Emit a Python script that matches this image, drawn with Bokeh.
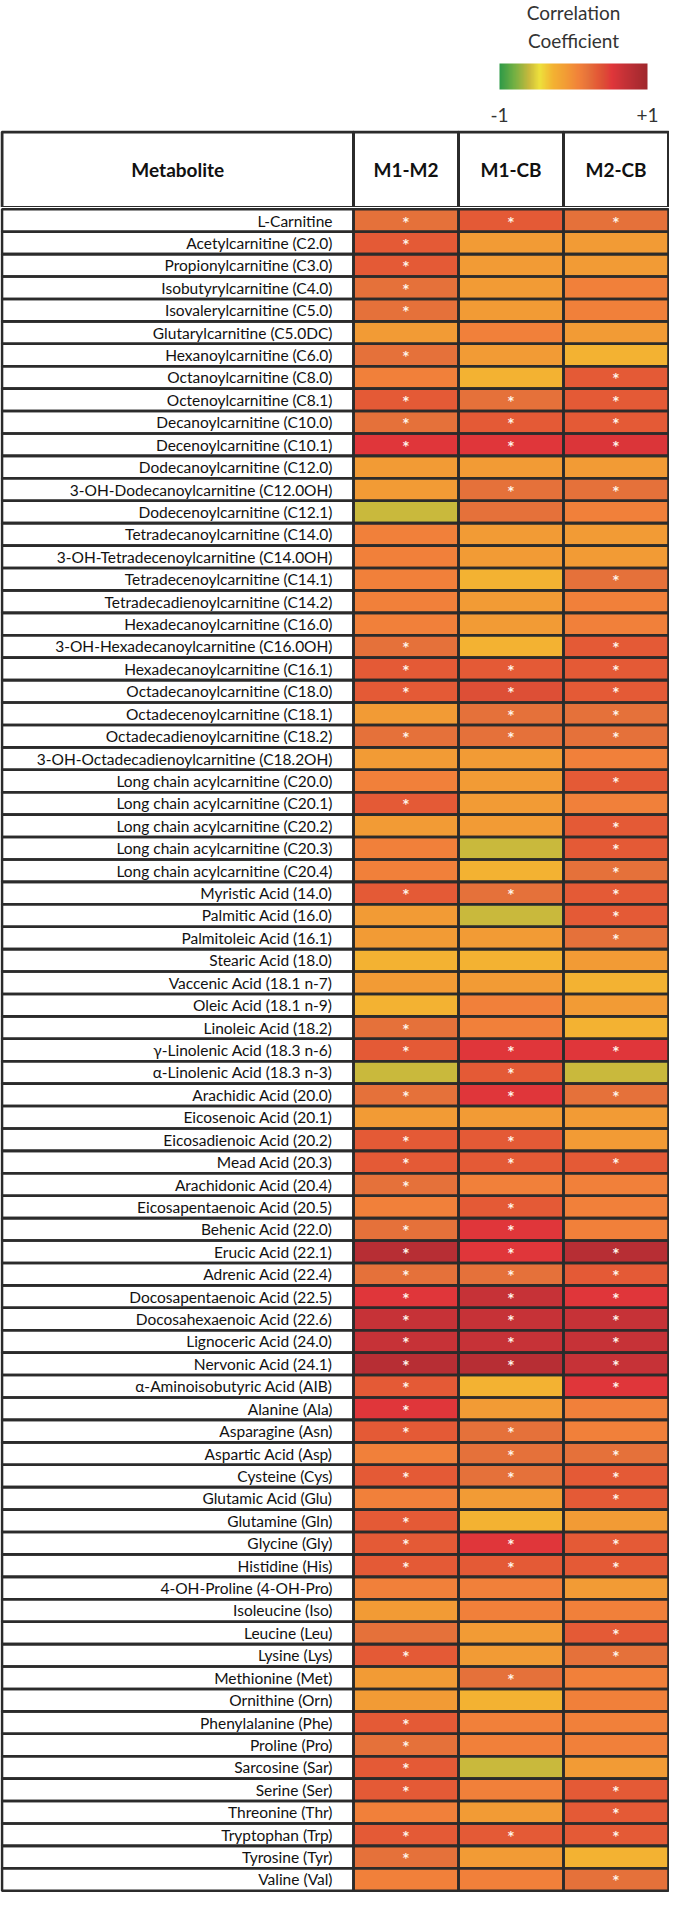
import numpy as np
from bokeh.plotting import figure
from bokeh.models import (ColumnDataSource, FactorRange, Range1d,
                          LinearColorMapper, ColorBar, FixedTicker)
from bokeh.layouts import column
from bokeh.transform import transform
from bokeh.core.properties import value
from bokeh.embed import file_html
from bokeh.resources import INLINE

# ---------------- data ----------------
metabolites = [
    "L-Carnitine", "Acetylcarnitine (C2.0)", "Propionylcarnitine (C3.0)",
    "Isobutyrylcarnitine (C4.0)", "Isovalerylcarnitine (C5.0)",
    "Glutarylcarnitine (C5.0DC)", "Hexanoylcarnitine (C6.0)",
    "Octanoylcarnitine (C8.0)", "Octenoylcarnitine (C8.1)",
    "Decanoylcarnitine (C10.0)", "Decenoylcarnitine (C10.1)",
    "Dodecanoylcarnitine (C12.0)", "3-OH-Dodecanoylcarnitine (C12.0OH)",
    "Dodecenoylcarnitine (C12.1)", "Tetradecanoylcarnitine (C14.0)",
    "3-OH-Tetradecenoylcarnitine (C14.0OH)", "Tetradecenoylcarnitine (C14.1)",
    "Tetradecadienoylcarnitine (C14.2)", "Hexadecanoylcarnitine (C16.0)",
    "3-OH-Hexadecanoylcarnitine (C16.0OH)", "Hexadecanoylcarnitine (C16.1)",
    "Octadecanoylcarnitine (C18.0)", "Octadecenoylcarnitine (C18.1)",
    "Octadecadienoylcarnitine (C18.2)", "3-OH-Octadecadienoylcarnitine (C18.2OH)",
    "Long chain acylcarnitine (C20.0)", "Long chain acylcarnitine (C20.1)",
    "Long chain acylcarnitine (C20.2)", "Long chain acylcarnitine (C20.3)",
    "Long chain acylcarnitine (C20.4)", "Myristic Acid (14.0)",
    "Palmitic Acid (16.0)", "Palmitoleic Acid (16.1)", "Stearic Acid (18.0)",
    "Vaccenic Acid (18.1 n-7)", "Oleic Acid (18.1 n-9)", "Linoleic Acid (18.2)",
    "\u03b3-Linolenic Acid (18.3 n-6)", "\u03b1-Linolenic Acid (18.3 n-3)",
    "Arachidic Acid (20.0)", "Eicosenoic Acid (20.1)", "Eicosadienoic Acid (20.2)",
    "Mead Acid (20.3)", "Arachidonic Acid (20.4)", "Eicosapentaenoic Acid (20.5)",
    "Behenic Acid (22.0)", "Erucic Acid (22.1)", "Adrenic Acid (22.4)",
    "Docosapentaenoic Acid (22.5)", "Docosahexaenoic Acid (22.6)",
    "Lignoceric Acid (24.0)", "Nervonic Acid (24.1)",
    "\u03b1-Aminoisobutyric Acid (AIB)", "Alanine (Ala)", "Asparagine (Asn)",
    "Aspartic Acid (Asp)", "Cysteine (Cys)", "Glutamic Acid (Glu)",
    "Glutamine (Gln)", "Glycine (Gly)", "Histidine (His)",
    "4-OH-Proline (4-OH-Pro)", "Isoleucine (Iso)", "Leucine (Leu)",
    "Lysine (Lys)", "Methionine (Met)", "Ornithine (Orn)",
    "Phenylalanine (Phe)", "Proline (Pro)", "Sarcosine (Sar)", "Serine (Ser)",
    "Threonine (Thr)", "Tryptophan (Trp)", "Tyrosine (Tyr)", "Valine (Val)",
]

comparisons = ["M1-M2", "M1-CB", "M2-CB"]
header_label = "Metabolite"

r_m1_m2 = [
    0.20, 0.32, 0.32, 0.20, 0.20, -0.10, 0.20, 0.08, 0.32, 0.20,
    0.52, -0.10, -0.10, -0.60, 0.08, 0.08, 0.08, 0.08, 0.08, 0.20,
    0.32, 0.32, -0.10, 0.20, -0.10, 0.08, 0.32, -0.10, 0.08, 0.08,
    0.32, -0.10, -0.10, -0.28, -0.10, -0.28, 0.20, 0.32, -0.60, 0.20,
    -0.10, 0.32, 0.32, 0.20, 0.08, 0.20, 0.80, 0.20, 0.52, 0.68,
    0.68, 0.80, 0.32, 0.52, 0.32, 0.08, 0.32, 0.08, 0.32, 0.32,
    0.32, 0.08, -0.10, 0.20, 0.32, -0.10, -0.10, 0.32, 0.20, 0.32,
    0.32, 0.08, 0.32, 0.20, 0.08,
]
r_m1_cb = [
    0.32, -0.10, -0.10, -0.10, -0.10, 0.08, -0.10, -0.28, 0.20, 0.32,
    0.52, -0.10, 0.20, 0.20, -0.10, -0.10, -0.28, -0.10, -0.10, -0.28,
    0.32, 0.40, 0.20, 0.20, -0.10, -0.10, -0.10, -0.10, -0.60, -0.28,
    0.20, -0.60, -0.10, -0.28, -0.10, 0.08, 0.08, 0.52, 0.32, 0.52,
    -0.10, 0.32, 0.32, 0.08, 0.32, 0.52, 0.52, 0.20, 0.68, 0.68,
    0.68, 0.80, -0.28, -0.10, 0.20, 0.20, 0.20, -0.10, -0.28, 0.52,
    0.32, 0.08, 0.08, -0.10, -0.10, 0.20, -0.28, 0.08, 0.08, -0.60,
    0.08, -0.10, 0.32, -0.10, 0.08,
]
r_m2_cb = [
    0.20, -0.10, -0.10, 0.08, 0.08, -0.10, -0.28, 0.32, 0.32, 0.32,
    0.55, -0.10, 0.20, 0.08, -0.10, -0.10, 0.20, 0.08, 0.08, 0.32,
    0.32, 0.32, 0.20, 0.20, 0.08, 0.32, 0.08, 0.32, 0.32, 0.20,
    0.32, 0.32, 0.20, -0.10, -0.28, -0.10, -0.28, 0.52, -0.60, 0.20,
    -0.10, -0.10, 0.32, 0.08, 0.08, 0.08, 0.80, 0.32, 0.52, 0.68,
    0.68, 0.68, 0.52, 0.08, 0.08, 0.20, 0.32, 0.32, -0.10, 0.32,
    0.32, -0.10, 0.08, 0.32, 0.20, 0.08, 0.08, 0.08, 0.08, -0.10,
    0.32, 0.32, 0.32, -0.28, 0.20,
]

sig_m1_m2 = [
    1, 1, 1, 1, 1, 0, 1, 0, 1, 1,
    1, 0, 0, 0, 0, 0, 0, 0, 0, 1,
    1, 1, 0, 1, 0, 0, 1, 0, 0, 0,
    1, 0, 0, 0, 0, 0, 1, 1, 0, 1,
    0, 1, 1, 1, 0, 1, 1, 1, 1, 1,
    1, 1, 1, 1, 1, 0, 1, 0, 1, 1,
    1, 0, 0, 0, 1, 0, 0, 1, 1, 1,
    1, 0, 1, 1, 0,
]
sig_m1_cb = [
    1, 0, 0, 0, 0, 0, 0, 0, 1, 1,
    1, 0, 1, 0, 0, 0, 0, 0, 0, 0,
    1, 1, 1, 1, 0, 0, 0, 0, 0, 0,
    1, 0, 0, 0, 0, 0, 0, 1, 1, 1,
    0, 1, 1, 0, 1, 1, 1, 1, 1, 1,
    1, 1, 0, 0, 1, 1, 1, 0, 0, 1,
    1, 0, 0, 0, 0, 1, 0, 0, 0, 0,
    0, 0, 1, 0, 0,
]
sig_m2_cb = [
    1, 0, 0, 0, 0, 0, 0, 1, 1, 1,
    1, 0, 1, 0, 0, 0, 1, 0, 0, 1,
    1, 1, 1, 1, 0, 1, 0, 1, 1, 1,
    1, 1, 1, 0, 0, 0, 0, 1, 0, 1,
    0, 0, 1, 0, 0, 0, 1, 1, 1, 1,
    1, 1, 1, 0, 0, 1, 1, 1, 0, 1,
    1, 0, 0, 1, 1, 0, 0, 0, 0, 0,
    1, 1, 1, 0, 1,
]

legend_title = ["Correlation", "Coefficient"]
legend_ticks = [-1, 1]
legend_tick_labels = ["-1", "+1"]

# ---------------- colour scale ----------------
stops_t = [0.00, 0.10, 0.20, 0.27, 0.36, 0.45, 0.54, 0.60, 0.66, 0.70, 0.76, 0.84, 0.90, 1.00]
stops_c = ["#2f9a47", "#74b043", "#c9b93c", "#eee13c", "#f3b232", "#f29b35",
           "#f1803a", "#e5713a", "#e45a36", "#dd5036", "#e0363a", "#c73237",
           "#b72e34", "#a0282d"]


def _rgb(h):
    return [int(h[i:i + 2], 16) for i in (1, 3, 5)]


_rgbs = np.array([_rgb(c) for c in stops_c], dtype=float)
_tt = np.linspace(0, 1, 256)
palette = []
for t in _tt:
    ch = [int(round(np.interp(t, stops_t, _rgbs[:, k]))) for k in range(3)]
    palette.append("#%02x%02x%02x" % tuple(ch))
mapper = LinearColorMapper(palette=palette, low=-1, high=1)

# ---------------- layout constants ----------------
W = 669
LEG_H = 130
HDR_H = 77
BODY_H = 1892 - LEG_H - HDR_H
NAME_PX = 353
COL_PX = 105
LINE = "#2b2b2b"
LW = 2.6
FONT = "Lato"

x0 = -NAME_PX / COL_PX
x1 = (W - NAME_PX) / COL_PX
xr = Range1d(x0, x1)
name_left = x0 + 1.5 / COL_PX
name_cx = name_left / 2.0
name_w = -name_left
LEG_CX = (573 - NAME_PX) / COL_PX


def base_fig(h, y_range):
    f = figure(width=W, height=h, x_range=xr, y_range=y_range,
               output_backend="svg", toolbar_location=None,
               x_axis_type=None, y_axis_type=None, min_border=0)
    f.grid.visible = False
    f.outline_line_color = None
    f.background_fill_color = "white"
    f.border_fill_color = "white"
    return f


# ---------------- legend ----------------
leg = base_fig(LEG_H, Range1d(LEG_H, 0))
leg.text(x=[LEG_CX] * len(legend_title), y=[12, 40], text=legend_title,
         text_align="center", text_baseline="alphabetic",
         text_font=value(FONT), text_font_size=value("19px"), text_color="#333333")
cb = ColorBar(color_mapper=mapper, orientation="horizontal", width=148, height=26,
              location=(499, 6), padding=0, margin=0,
              ticker=FixedTicker(ticks=legend_ticks),
              major_label_overrides=dict(zip(legend_ticks, legend_tick_labels)),
              major_tick_line_color=None, minor_tick_line_color=None,
              major_label_text_font=FONT, major_label_text_font_size="19px",
              major_label_text_color="#333333", label_standoff=18,
              bar_line_color=None, border_line_color=None,
              background_fill_color=None)
leg.add_layout(cb)

# ---------------- header ----------------
hdr = base_fig(HDR_H, Range1d(0, HDR_H))
hdr_top = HDR_H - 1.5
hdr_src = ColumnDataSource(dict(x=[j + 0.5 for j in range(len(comparisons))],
                                t=comparisons))
hdr.rect(x=name_cx, y=hdr_top / 2, width=name_w, height=hdr_top,
         fill_color="white", line_color=LINE, line_width=LW + 0.4)
hdr.rect(x="x", y=hdr_top / 2, width=1, height=hdr_top, source=hdr_src,
         fill_color="white", line_color=LINE, line_width=LW + 0.4)
hdr.text(x=[name_cx], y=[hdr_top / 2], text=[header_label], text_align="center",
         text_baseline="middle", text_font=value(FONT), text_font_style="bold",
         text_font_size=value("19px"), text_color="#111111")
hdr.text(x="x", y=hdr_top / 2, text="t", source=hdr_src, text_align="center",
         text_baseline="middle", text_font=value(FONT), text_font_style="bold",
         text_font_size=value("19px"), text_color="#111111")

# ---------------- body ----------------
yr = FactorRange(factors=list(reversed(metabolites)), range_padding=0.08,
                 range_padding_units="absolute")
body = base_fig(BODY_H, yr)

name_src = ColumnDataSource(dict(name=metabolites))
cx, cy, cr, sx, sy = [], [], [], [], []
for j, (vals, sigs) in enumerate(zip([r_m1_m2, r_m1_cb, r_m2_cb],
                                     [sig_m1_m2, sig_m1_cb, sig_m2_cb])):
    for name, v, s in zip(metabolites, vals, sigs):
        cx.append(j + 0.5)
        cy.append(name)
        cr.append(v)
        if s:
            sx.append(j + 0.5)
            sy.append(name)
cell_src = ColumnDataSource(dict(x=cx, y=cy, r=cr))
star_src = ColumnDataSource(dict(x=sx, y=sy, t=["*"] * len(sx)))

body.rect(x=name_cx, y="name", width=name_w, height=1, source=name_src,
          fill_color="white", line_color=None)
body.rect(x="x", y="y", width=1, height=1, source=cell_src,
          fill_color=transform("r", mapper), line_color=None)
body.rect(x=name_cx, y="name", width=name_w, height=1, source=name_src,
          fill_alpha=0, line_color=LINE, line_width=LW)
body.rect(x="x", y="y", width=1, height=1, source=cell_src,
          fill_alpha=0, line_color=LINE, line_width=LW)
body.text(x=-0.2, y="name", text="name", source=name_src, text_align="right",
          text_baseline="middle", text_font=value(FONT),
          text_font_size=value("15.5px"), text_color="#111111")
body.text(x="x", y="y", text="t", source=star_src, text_align="center",
          text_baseline="middle", text_font=value("DejaVu Sans"),
          text_font_size=value("12px"), text_font_style="bold",
          text_color="#fff4ea", y_offset=1)

layout = column(leg, hdr, body, spacing=0)
open("out.html", "w").write(file_html(layout, INLINE))
